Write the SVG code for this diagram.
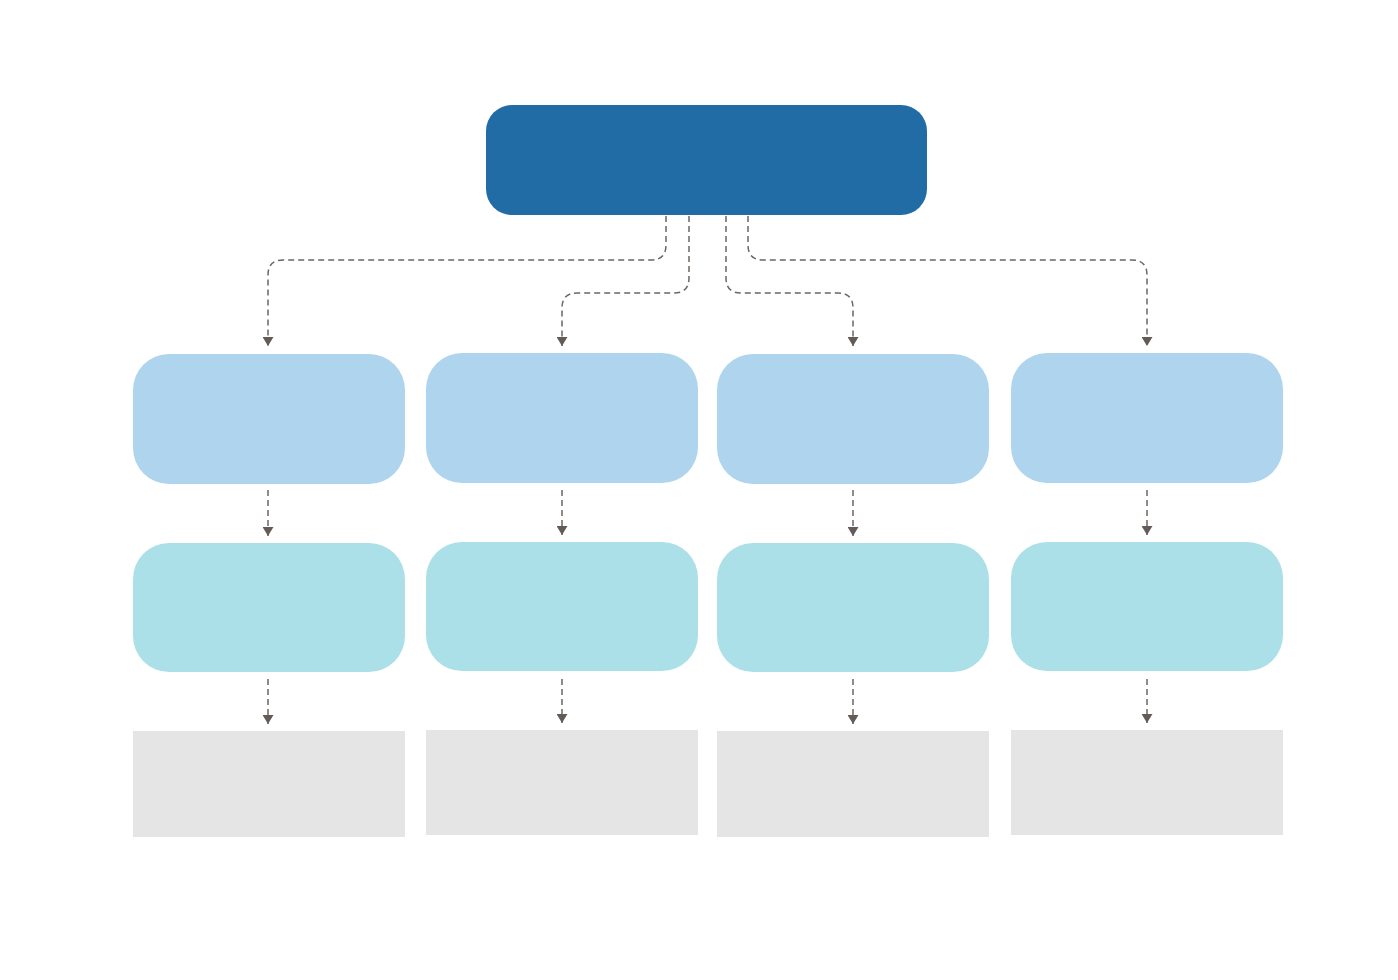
<svg xmlns="http://www.w3.org/2000/svg" width="1398" height="980" viewBox="0 0 1398 980">
<defs>
<marker id="ah" markerWidth="10" markerHeight="9" refX="5" refY="8" orient="auto-start-reverse" markerUnits="userSpaceOnUse" viewBox="0 0 10 9">
<path d="M0,0 L10,0 L5,9 Z" fill="#625b57" transform="rotate(-90 5 4.5) translate(0 0)"/>
</marker>
<marker id="ad" markerWidth="11" markerHeight="9" refX="5.5" refY="9" orient="0" markerUnits="userSpaceOnUse" viewBox="0 0 11 9">
<path d="M0,0 L11,0 L5.5,9 Z" fill="#625b57"/>
</marker>
<style>
.top{fill:#226ca6}
.r1{fill:#aed4ee}
.r2{fill:#abe0e8}
.r3{fill:#e5e5e5}
.c{fill:none;stroke:#6d6661;stroke-width:1.5;stroke-dasharray:6 4;marker-end:url(#ad)}
</style>
</defs>
<rect width="1398" height="980" fill="#ffffff"/>
<g id="root"><rect class="top" x="486" y="105" width="441" height="110" rx="26"/></g>
<g id="a1"><rect class="r1" x="133" y="354" width="272" height="130" rx="36"/></g>
<g id="a2"><rect class="r1" x="426" y="353" width="272" height="130" rx="36"/></g>
<g id="a3"><rect class="r1" x="717" y="354" width="272" height="130" rx="36"/></g>
<g id="a4"><rect class="r1" x="1011" y="353" width="272" height="130" rx="36"/></g>
<g id="b1"><rect class="r2" x="133" y="543" width="272" height="129" rx="36"/></g>
<g id="b2"><rect class="r2" x="426" y="542" width="272" height="129" rx="36"/></g>
<g id="b3"><rect class="r2" x="717" y="543" width="272" height="129" rx="36"/></g>
<g id="b4"><rect class="r2" x="1011" y="542" width="272" height="129" rx="36"/></g>
<g id="c1"><rect class="r3" x="133" y="731" width="272" height="106"/></g>
<g id="c2"><rect class="r3" x="426" y="730" width="272" height="105"/></g>
<g id="c3"><rect class="r3" x="717" y="731" width="272" height="106"/></g>
<g id="c4"><rect class="r3" x="1011" y="730" width="272" height="105"/></g>
<g id="connectors">
<path class="c" d="M666,216 V245 Q666,260 651,260 H283 Q268,260 268,275 V346"/>
<path class="c" d="M689,216 V278 Q689,293 674,293 H577 Q562,293 562,308 V346"/>
<path class="c" d="M726,216 V278 Q726,293 741,293 H838 Q853,293 853,308 V346"/>
<path class="c" d="M748,216 V245 Q748,260 763,260 H1132 Q1147,260 1147,275 V346"/>
<path class="c" d="M268,490 V536"/>
<path class="c" d="M562,490 V535"/>
<path class="c" d="M853,490 V536"/>
<path class="c" d="M1147,490 V535"/>
<path class="c" d="M268,679 V724"/>
<path class="c" d="M562,679 V723"/>
<path class="c" d="M853,679 V724"/>
<path class="c" d="M1147,679 V723"/>
</g>
</svg>
